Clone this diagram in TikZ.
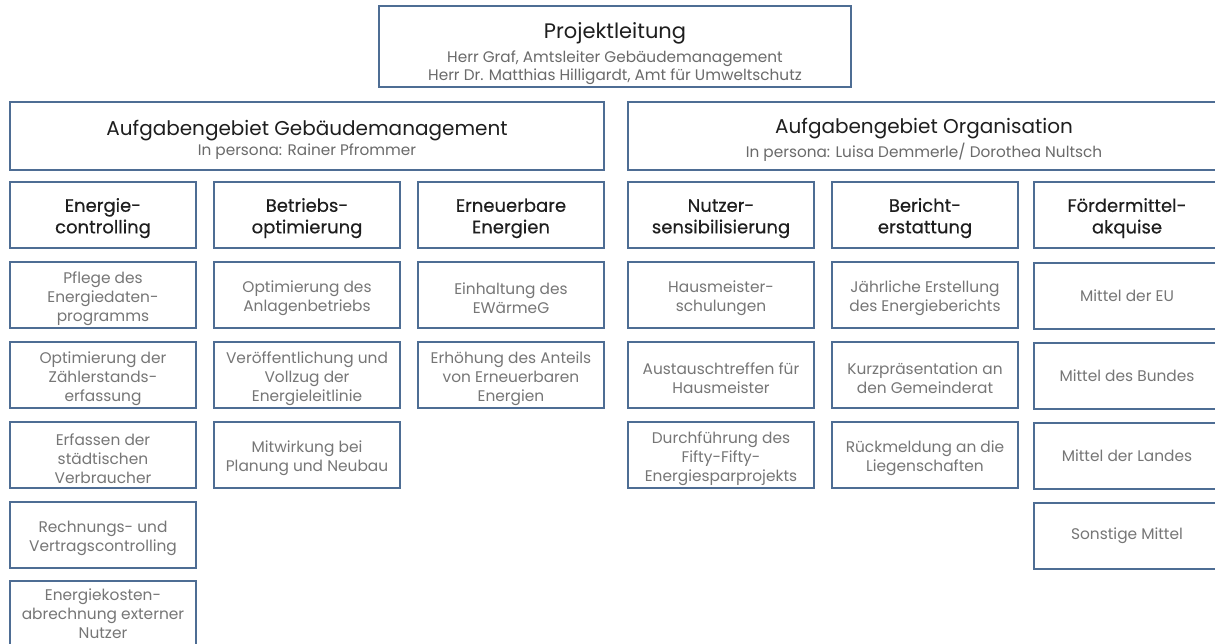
\documentclass[tikz,border=0pt]{standalone}
\usepackage{fontspec}
\setmainfont{Poppins}
\newfontfamily\medfont{Poppins}[FakeBold=0.4]
\definecolor{bordercol}{HTML}{4E6D94}
\definecolor{titlecol}{HTML}{1E1E1E}
\definecolor{subcol}{HTML}{6A6A6A}
\definecolor{itemcol}{HTML}{767676}
\tikzset{
  box/.style={draw=bordercol, line width=1.3pt, fill=white, align=center, inner sep=1pt, minimum width=186pt, minimum height=66pt},
  topbox/.style={box, minimum width=472pt, minimum height=81pt, font=\fontsize{15.3}{17.5}\selectfont},
  headbox/.style={box, minimum height=68pt, font=\fontsize{15.3}{17.5}\selectfont},
  subjbox/.style={box, text=titlecol, font=\medfont\fontsize{18}{21.5}\selectfont},
  itembox/.style={box, text=itemcol, font=\fontsize{15.4}{19}\selectfont},
}
\newcommand{\ttl}[3]{{\color{titlecol}\fontsize{#1}{24}\selectfont\rule{0pt}{#2}#3}}
\newcommand{\sbt}[1]{{\color{subcol}#1}}
\newcommand{\istr}{\rule{0pt}{18.2pt}}
\newcommand{\sstr}{\rule{0pt}{20pt}}
\begin{document}
\begin{tikzpicture}[x=1pt,y=-1pt]
\useasboundingbox (0,0) rectangle (1215,643);
% top
\node[topbox] (pl) at (615,46.5) {\ttl{21}{29.5pt}{Projektleitung}\\[7pt]\sbt{Herr Graf, Amtsleiter Gebäudemanagement}\\\sbt{Herr Dr. Matthias Hilligardt, Amt für Umweltschutz}};
% headers
\node[headbox, minimum width=594pt] (hg) at (307,136) {\ttl{20}{22.5pt}{Aufgabengebiet Gebäudemanagement}\\[3pt]\sbt{In persona: Rainer Pfrommer}};
\node[headbox, minimum width=592pt] (ho) at (924,136) {\ttl{20}{22.5pt}{Aufgabengebiet Organisation}\\[3pt]\sbt{In persona: Luisa Demmerle/ Dorothea Nultsch}};
% subject headers
\node[subjbox] (s1) at (103,215) {\sstr Energie-\\controlling};
\node[subjbox] (s2) at (307,215) {\sstr Betriebs-\\optimierung};
\node[subjbox] (s3) at (511,215) {\sstr Erneuerbare\\Energien};
\node[subjbox] (s4) at (721,215) {\sstr Nutzer-\\sensibilisierung};
\node[subjbox] (s5) at (925,215) {\sstr Bericht-\\erstattung};
\node[subjbox] (s6) at (1127,215) {\sstr Fördermittel-\\akquise};
% column 1
\node[itembox] (a1) at (103,295) {\istr Pflege des\\Energiedaten-\\programms};
\node[itembox] (a2) at (103,375) {\istr Optimierung der\\Zählerstands-\\erfassung};
\node[itembox] (a3) at (103,455) {\istr Erfassen der\\städtischen\\Verbraucher};
\node[itembox] (a4) at (103,535) {\istr Rechnungs- und\\Vertragscontrolling};
\node[itembox] (a5) at (103,614) {Energiekosten-\\abrechnung externer\\Nutzer};
% column 2
\node[itembox] (b1) at (307,295) {\istr Optimierung des\\Anlagenbetriebs};
\node[itembox] (b2) at (307,375) {\istr Veröffentlichung und\\Vollzug der\\Energieleitlinie};
\node[itembox] (b3) at (307,455) {\istr Mitwirkung bei\\Planung und Neubau};
% column 3
\node[itembox] (c1) at (511,295) {\istr Einhaltung des\\EWärmeG};
\node[itembox] (c2) at (511,375) {\istr Erhöhung des Anteils\\von Erneuerbaren\\Energien};
% column 4
\node[itembox] (d1) at (721,295) {\istr Hausmeister-\\schulungen};
\node[itembox] (d2) at (721,375) {\istr Austauschtreffen für\\Hausmeister};
\node[itembox] (d3) at (721,455) {\istr Durchführung des\\Fifty-Fifty-\\Energiesparprojekts};
% column 5
\node[itembox] (e1) at (925,295) {\istr Jährliche Erstellung\\des Energieberichts};
\node[itembox] (e2) at (925,375) {\istr Kurzpräsentation an\\den Gemeinderat};
\node[itembox] (e3) at (925,455) {\istr Rückmeldung an die\\Liegenschaften};
% column 6
\node[itembox] (f1) at (1127,296) {Mittel der EU};
\node[itembox] (f2) at (1127,376) {Mittel des Bundes};
\node[itembox] (f3) at (1127,456) {Mittel der Landes};
\node[itembox] (f4) at (1127,536) {Sonstige Mittel};
\end{tikzpicture}
\end{document}
